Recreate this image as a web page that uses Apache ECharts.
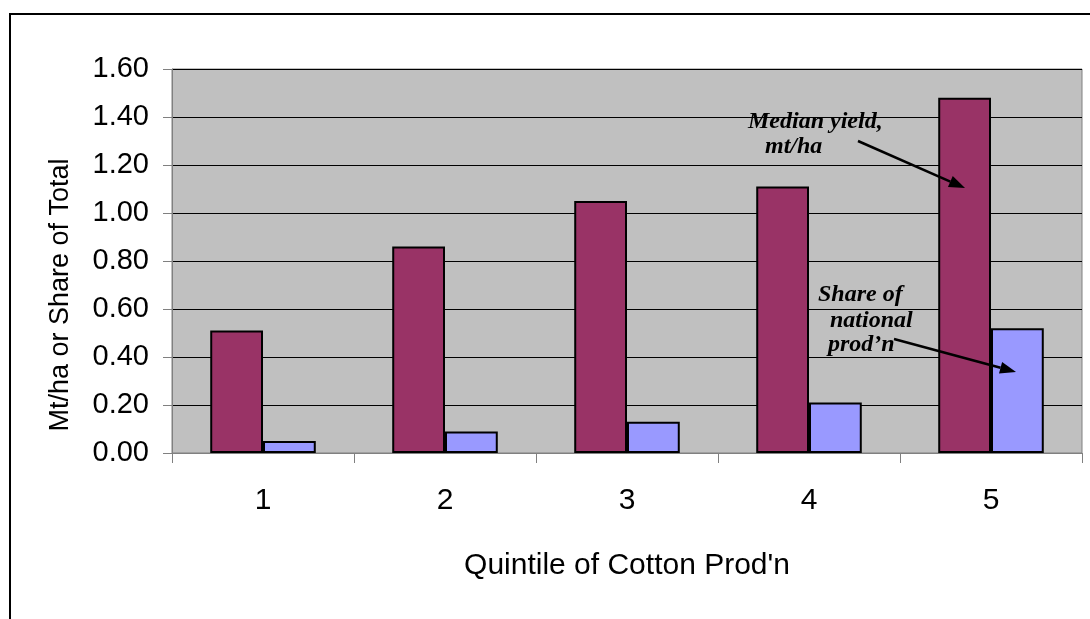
<!DOCTYPE html>
<html>
<head>
<meta charset="utf-8">
<script src="https://cdn.jsdelivr.net/npm/echarts@6/dist/echarts.min.js"></script>
<style>
html,body{margin:0;padding:0;background:#fff;}
#c{width:1090px;height:619px;}
</style>
</head>
<body>
<div id="c"></div>
<script>
const categories = ['1', '2', '3', '4', '5'];
const medianYield = [0.51, 0.86, 1.05, 1.11, 1.48];
const shareOfProd = [0.05, 0.09, 0.13, 0.21, 0.52];
const yTicks = { min: 0, max: 1.6, interval: 0.2 };
const xTitle = 'Quintile of Cotton Prod\'n';
const yTitle = 'Mt/ha or Share of Total';

const chart = echarts.init(document.getElementById('c'));
const sans = '"Liberation Sans", Arial, sans-serif';
const serif = '"Liberation Serif", "Times New Roman", serif';
const annStyle = { fill: '#000', font: 'italic bold 24px ' + serif };

function arrow(x1, y1, x2, y2) {
  const ang = Math.atan2(y2 - y1, x2 - x1);
  const L = 16, W = 6;
  const bx = x2 - L * Math.cos(ang), by = y2 - L * Math.sin(ang);
  const px = -Math.sin(ang) * W, py = Math.cos(ang) * W;
  return [
    { type: 'line', z: 100, shape: { x1: x1, y1: y1, x2: bx, y2: by }, style: { stroke: '#000', lineWidth: 2.5 } },
    { type: 'polygon', z: 100, shape: { points: [[x2, y2], [bx + px, by + py], [bx - px, by - py]] }, style: { fill: '#000' } }
  ];
}

chart.setOption({
  animation: false,
  backgroundColor: '#fff',
  grid: { left: 172, right: 8, top: 69, bottom: 166, show: true, backgroundColor: '#C0C0C0', borderColor: '#808080', borderWidth: 1 },
  xAxis: {
    type: 'category',
    data: categories,
    name: xTitle,
    nameLocation: 'middle',
    nameGap: 98,
    nameTextStyle: { fontFamily: sans, fontSize: 30, color: '#000' },
    axisLine: { show: true, lineStyle: { color: '#808080', width: 1 } },
    axisTick: { show: true, length: 10, alignWithLabel: false, lineStyle: { color: '#808080' } },
    axisLabel: { fontFamily: sans, fontSize: 30, color: '#000', margin: 33 }
  },
  yAxis: {
    type: 'value',
    min: yTicks.min, max: yTicks.max, interval: yTicks.interval,
    axisLine: { show: true, lineStyle: { color: '#808080', width: 1 } },
    axisTick: { show: true, length: 9, lineStyle: { color: '#808080' } },
    axisLabel: { fontFamily: sans, fontSize: 29, color: '#000', margin: 23, formatter: v => v.toFixed(2) },
    splitLine: { show: true, lineStyle: { color: '#000', width: 1 } }
  },
  series: [
    { name: 'Median yield, mt/ha', type: 'bar', data: medianYield, barGap: '0%', barCategoryGap: '42%',
      itemStyle: { color: '#993366', borderColor: '#000', borderWidth: 2 } },
    { name: 'Share of national prod\'n', type: 'bar', data: shareOfProd,
      itemStyle: { color: '#9999FF', borderColor: '#000', borderWidth: 2 } }
  ],
  graphic: [
    { type: 'rect', z: 100, shape: { x: 10, y: 14, width: 1200, height: 800 }, style: { fill: 'none', stroke: '#000', lineWidth: 2 }, silent: true },
    { type: 'text', z: 100, x: 61, y: 295, rotation: Math.PI / 2, style: { text: yTitle, fill: '#000', font: '27px ' + sans, align: 'center', verticalAlign: 'middle' } },
    { type: 'text', z: 100, x: 748, y: 134, style: Object.assign({ text: 'Median yield,', verticalAlign: 'bottom' }, annStyle) },
    { type: 'text', z: 100, x: 765, y: 159, style: Object.assign({ text: 'mt/ha', verticalAlign: 'bottom' }, annStyle) },
    { type: 'text', z: 100, x: 818, y: 307, style: Object.assign({ text: 'Share of', verticalAlign: 'bottom' }, annStyle) },
    { type: 'text', z: 100, x: 830, y: 333, style: Object.assign({ text: 'national', verticalAlign: 'bottom' }, annStyle) },
    { type: 'text', z: 100, x: 828, y: 357, style: Object.assign({ text: 'prod\u2019n', verticalAlign: 'bottom' }, annStyle) }
  ].concat(arrow(858, 141, 965, 188), arrow(894, 339, 1016, 372))
});
</script>
</body>
</html>
